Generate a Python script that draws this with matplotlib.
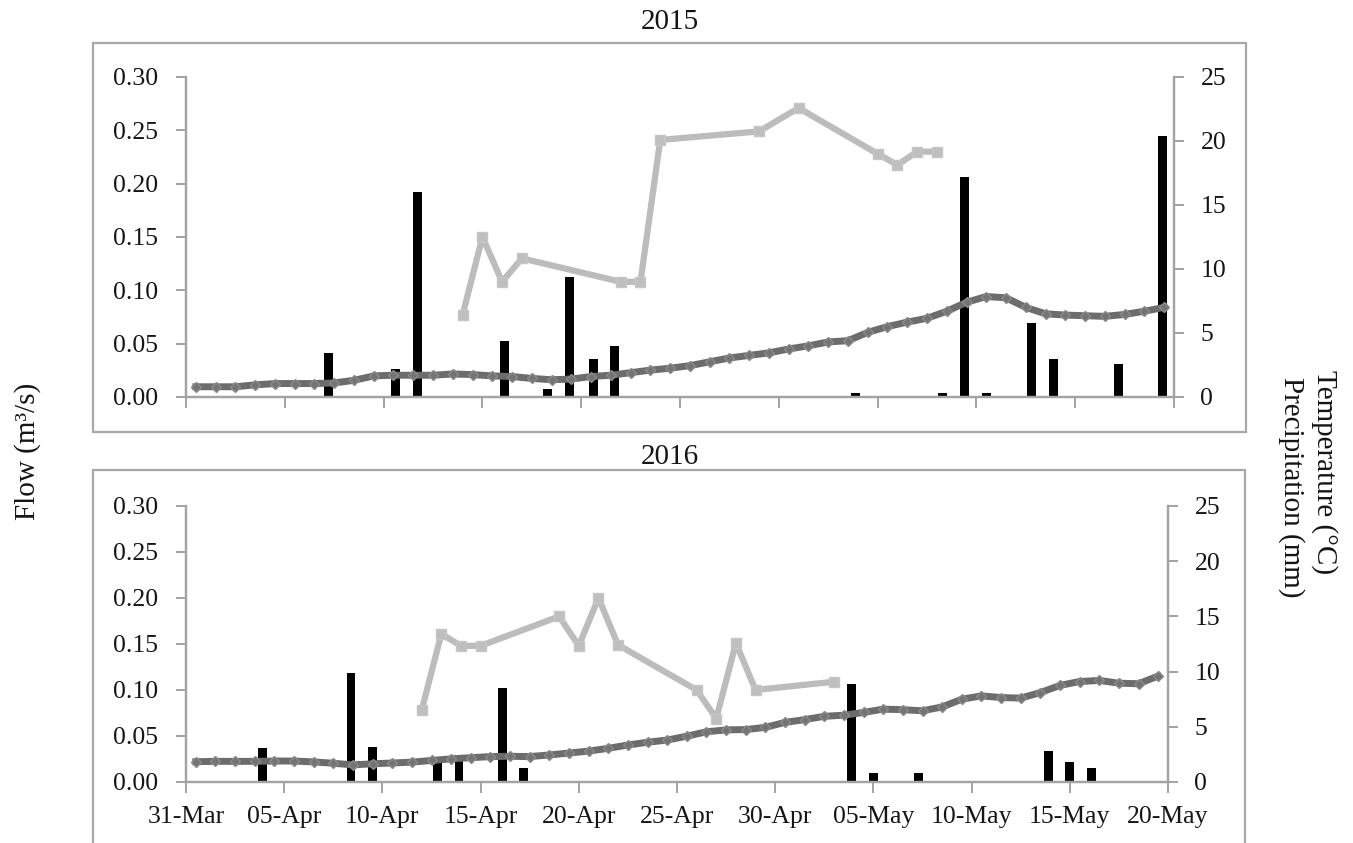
# flow, temperature and precipitation, spring 2015 vs 2016

import numpy as np
import matplotlib
matplotlib.use('Agg')
from matplotlib import pyplot as plt
from matplotlib.patches import Rectangle

plt.rcParams['font.family'] = ['Liberation Serif', 'DejaVu Serif']

# x axis: days after 31-Mar
tick_labels = ['31-Mar', '05-Apr', '10-Apr', '15-Apr', '20-Apr', '25-Apr',
               '30-Apr', '05-May', '10-May', '15-May', '20-May']

# daily mean temperature (deg C), 31-Mar .. 19-May
temp_2015 = [0.8, 0.8, 0.8, 0.95, 1.05, 1.05, 1.05, 1.1, 1.3, 1.65,
             1.7, 1.7, 1.7, 1.8, 1.75, 1.65, 1.6, 1.45, 1.35, 1.4,
             1.6, 1.7, 1.9, 2.1, 2.25, 2.45, 2.75, 3.05, 3.25, 3.45,
             3.75, 4.0, 4.3, 4.4, 5.05, 5.5, 5.85, 6.15, 6.7, 7.4,
             7.85, 7.75, 7.0, 6.5, 6.4, 6.35, 6.3, 6.45, 6.7, 7.0]
temp_2016 = [1.84, 1.87, 1.87, 1.87, 1.9, 1.9, 1.82, 1.7, 1.55, 1.65,
             1.72, 1.8, 1.95, 2.1, 2.2, 2.3, 2.33, 2.3, 2.45, 2.62,
             2.8, 3.05, 3.35, 3.6, 3.8, 4.15, 4.55, 4.72, 4.75, 4.95,
             5.4, 5.65, 5.95, 6.05, 6.3, 6.6, 6.55, 6.45, 6.8, 7.5,
             7.8, 7.65, 7.6, 8.1, 8.75, 9.1, 9.2, 8.95, 8.9, 9.6]

# measured flow (m3/s)
flow_days_2015 = [14, 15, 16, 17, 22, 23, 24, 29, 31, 35, 36, 37, 38]
flow_2015 = [0.077, 0.150, 0.108, 0.130, 0.108, 0.108, 0.241, 0.249,
             0.271, 0.228, 0.2175, 0.230, 0.230]
flow_days_2016 = [12, 13, 14, 15, 19, 20, 21, 22, 26, 27, 28, 29, 33]
flow_2016 = [0.078, 0.161, 0.148, 0.148, 0.180, 0.148, 0.200, 0.149,
             0.100, 0.069, 0.151, 0.100, 0.109]

# precipitation (mm)
rain_days_2015 = [7.2, 10.6, 11.7, 16.1, 18.3, 19.4, 20.6, 21.7, 33.9,
                  38.3, 39.4, 40.5, 42.8, 43.9, 47.2, 49.4]
rain_2015 = [3.4, 2.15, 16.0, 4.4, 0.6, 9.4, 3.0, 4.0, 0.3,
             0.3, 17.2, 0.3, 5.8, 2.95, 2.6, 20.4]
rain_days_2016 = [3.9, 8.4, 9.5, 12.8, 13.9, 16.1, 17.2, 33.9, 35.0,
                  37.3, 43.9, 45.0, 46.1]
rain_2016 = [3.05, 9.85, 3.2, 2.0, 2.0, 8.55, 1.3, 8.85, 0.85,
             0.85, 2.8, 1.8, 1.25]

W, H = 1353, 843
fig = plt.figure(figsize=(W / 100, H / 100), dpi=100)

AXIS_GREY = '#a3a3a3'
TXT = '#151515'


def px_rect(x0, y0, x1, y1):
    # pixel box (top-left origin) -> figure fraction rect
    return [x0 / W, 1 - y1 / H, (x1 - x0) / W, (y1 - y0) / H]


def panel(rect, temp, flow_days, flow, rain_days, rain, show_labels):
    ax = fig.add_axes(rect)
    ax2 = ax.twinx()
    day_mid = np.arange(len(temp)) + 0.5

    ax2.bar(rain_days, rain, width=0.45, color='black', zorder=2)
    ax2.plot(day_mid, temp, color='#6c6c6c', lw=5, marker='D', ms=5,
             mfc='#747474', mec='#8a8a8a', mew=1, zorder=3)
    ax.plot(flow_days, flow, color='#bcbcbc', lw=4.5, marker='s', ms=7.5,
            mfc='#bfbfbf', mec='#c6c6c6', zorder=3)
    ax.set_zorder(ax2.get_zorder() + 1)
    ax.patch.set_visible(False)

    ax.set_xlim(0, 50)
    ax.set_ylim(0, 0.30)
    ax2.set_ylim(0, 25)
    ax.set_xticks(np.arange(0, 51, 5))
    ax.set_xticklabels(tick_labels)
    ax.set_yticks(np.arange(0, 0.301, 0.05))
    ax.set_yticklabels(['%.2f' % v for v in np.arange(0, 0.301, 0.05)])
    ax2.set_yticks(np.arange(0, 26, 5))

    for a in (ax, ax2):
        a.spines['top'].set_visible(False)
        for s in ('left', 'right', 'bottom'):
            a.spines[s].set_color(AXIS_GREY)
            a.spines[s].set_linewidth(1.6)
    ax.tick_params(axis='y', direction='out', length=7, width=1.4,
                   color=AXIS_GREY, labelsize=18.5, labelcolor=TXT, pad=13)
    ax2.tick_params(axis='y', direction='out', length=7, width=1.4,
                    color=AXIS_GREY, labelsize=18.5, labelcolor=TXT, pad=12)
    ax.tick_params(axis='x', direction='out', length=8, width=1.4,
                   color=AXIS_GREY, labelsize=18.5, labelcolor=TXT, pad=9,
                   labelbottom=show_labels)
    return ax


panel(px_rect(186, 77, 1174, 397), temp_2015, flow_days_2015, flow_2015,
      rain_days_2015, rain_2015, False)
panel(px_rect(186, 506, 1168, 782), temp_2016, flow_days_2016, flow_2016,
      rain_days_2016, rain_2016, True)

# chart frames
fig.add_artist(Rectangle((93 / W, 1 - 432 / H), (1246 - 93) / W, (432 - 43) / H,
                         transform=fig.transFigure, fill=False,
                         ec='#a8a8a8', lw=1.6))
fig.add_artist(Rectangle((93 / W, 1 - 880 / H), (1245 - 93) / W, (880 - 470) / H,
                         transform=fig.transFigure, fill=False,
                         ec='#a8a8a8', lw=1.6))

fig.text(670 / W, 1 - 22 / H, '2015', ha='center', va='center', fontsize=21, color=TXT)
fig.text(670 / W, 1 - 457 / H, '2016', ha='center', va='center', fontsize=21, color=TXT)

fig.text(28 / W, 1 - 451 / H, 'Flow (m³/s)', rotation=90, ha='center',
         va='center', fontsize=21, color=TXT)
fig.text(1324 / W, 1 - 370 / H, 'Temperature (°C)', rotation=270,
         ha='center', va='top', fontsize=21, color=TXT)
fig.text(1291 / W, 1 - 377 / H, 'Precipitation (mm)', rotation=270,
         ha='center', va='top', fontsize=21, color=TXT)

fig.savefig('out.png', dpi=100)
